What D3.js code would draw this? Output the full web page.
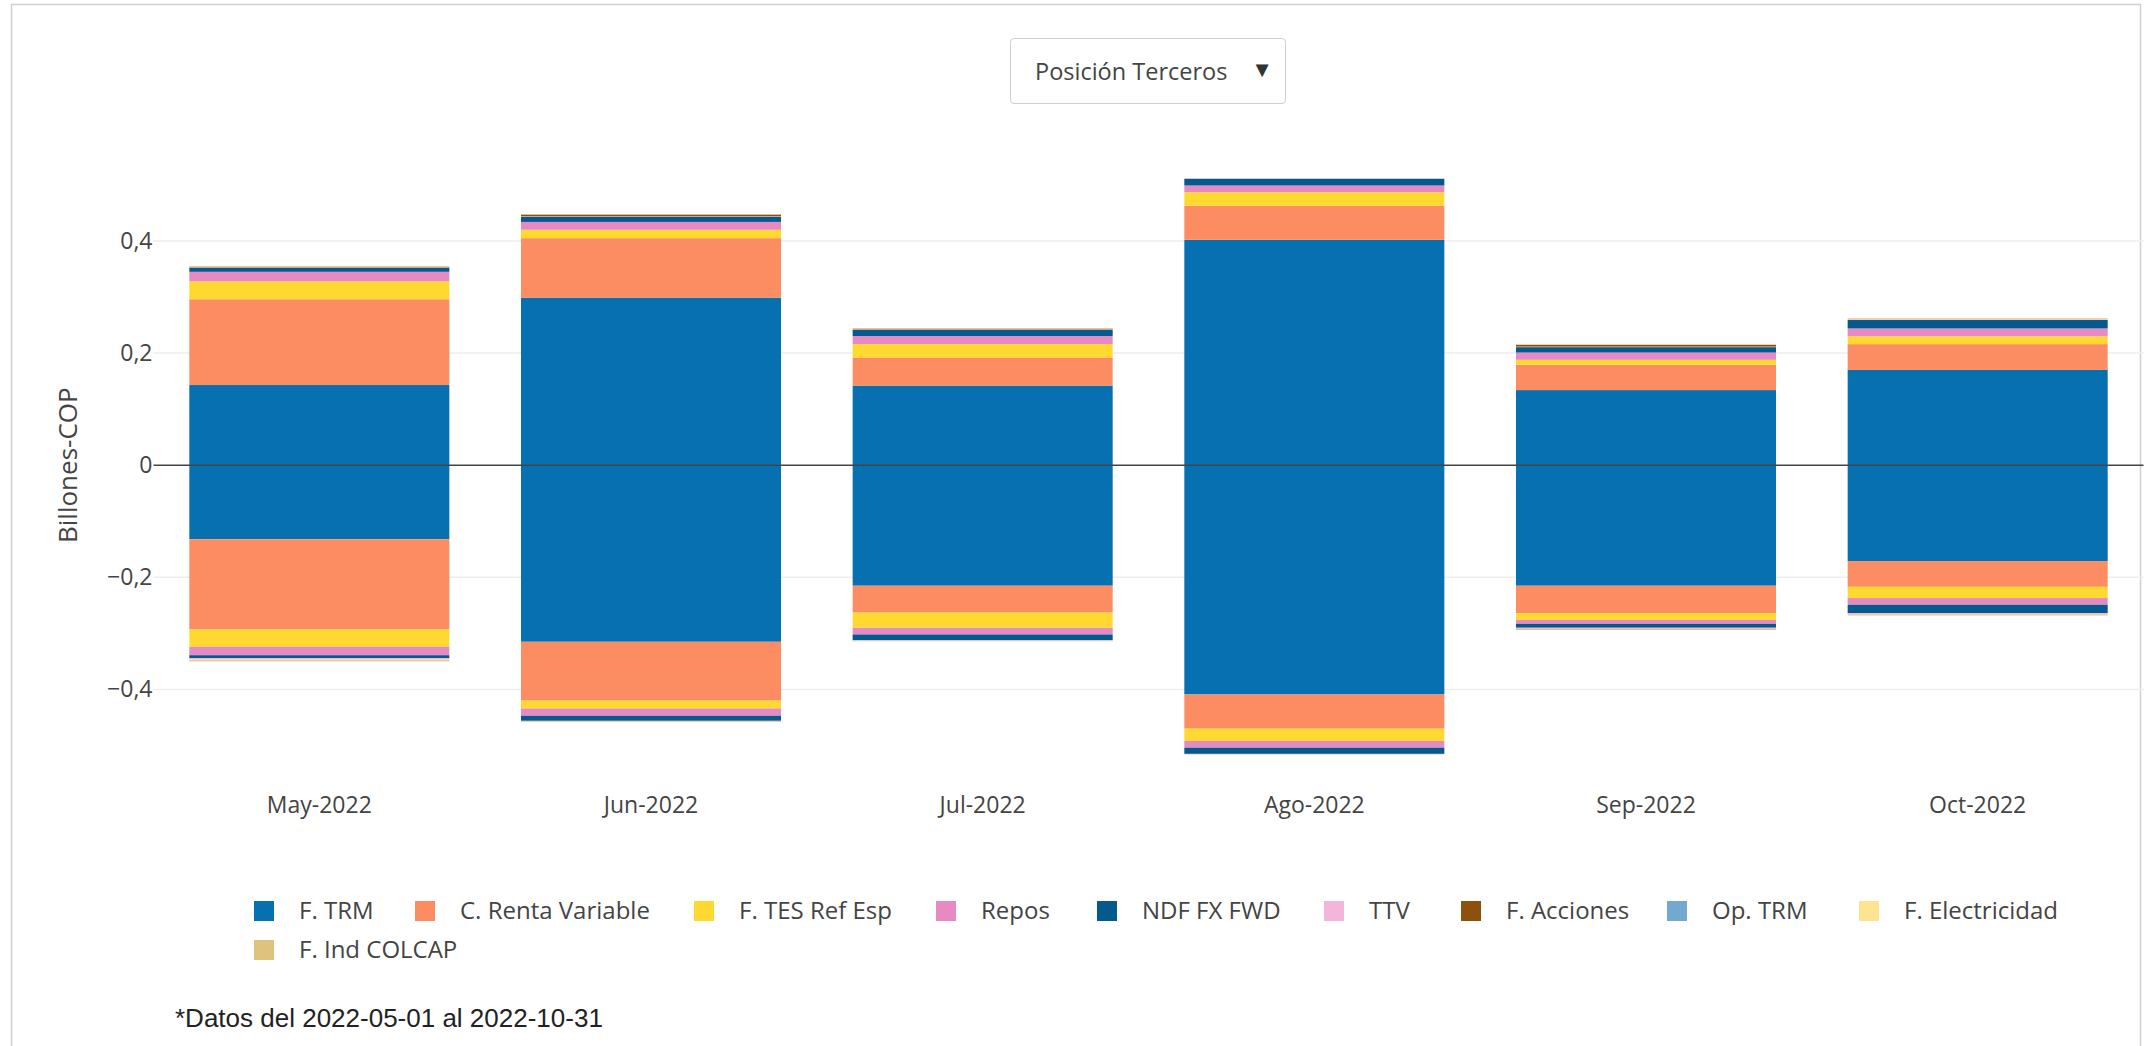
<!DOCTYPE html>
<html>
<head>
<meta charset="utf-8">
<script src="https://cdn.jsdelivr.net/npm/d3@7"></script>
<style>
  body { margin: 0; background: #fff; }
  #chart { position: relative; width: 2149px; height: 1046px; }
  #dropdown {
    position: absolute; left: 1010px; top: 38px; width: 276px; height: 66px;
    box-sizing: border-box; border: 1px solid #c8d0dc; border-radius: 4px; background: #fff;
    font-family: "Open Sans", sans-serif; font-size: 23.5px; color: #444;
  }
  #dropdown span.t { position: absolute; left: 24px; top: 16px; }
  #dropdown span.a { position: absolute; right: 12px; top: 14px; font-size: 22px; color: #333; }
</style>
</head>
<body>
<div id="chart">
  <div id="dropdown"><span class="t">Posición Terceros</span><span class="a">▼</span></div>
</div>
<script>
// categories
const months = ["May-2022", "Jun-2022", "Jul-2022", "Ago-2022", "Sep-2022", "Oct-2022"];

// series names and colours
const seriesNames = ["F. TRM", "C. Renta Variable", "F. TES Ref Esp", "Repos", "NDF FX FWD",
  "TTV", "F. Acciones", "Op. TRM", "F. Electricidad", "F. Ind COLCAP"];
const seriesColors = ["#0670b0", "#fc8d62", "#ffd92f", "#e78ac3", "#045a8d",
  "#f1b6da", "#8c510a", "#74a9cf", "#fee391", "#dfc27d"];

// values, billones COP (positive side / negative side)
const trmPos      = [0.143, 0.299, 0.142, 0.402, 0.134, 0.170];
const trmNeg      = [-0.132, -0.315, -0.215, -0.409, -0.215, -0.171];
const rentaPos    = [0.153, 0.106, 0.050, 0.061, 0.045, 0.046];
const rentaNeg    = [-0.161, -0.105, -0.048, -0.061, -0.049, -0.046];
const tesPos      = [0.032, 0.015, 0.024, 0.024, 0.009, 0.014];
const tesNeg      = [-0.031, -0.014, -0.027, -0.022, -0.012, -0.020];
const reposPos    = [0.017, 0.014, 0.0145, 0.012, 0.013, 0.014];
const reposNeg    = [-0.015, -0.013, -0.012, -0.012, -0.007, -0.012];
const ndfPos      = [0.007, 0.009, 0.011, 0.012, 0.0096, 0.015];
const ndfNeg      = [-0.005, -0.009, -0.010, -0.011, -0.007, -0.015];
const ttvPos      = [0.001, 0.001, 0.001, 0.001, 0.001, 0.001];
const ttvNeg      = [-0.003, -0.001, -0.001, -0.001, -0.002, -0.002];
const accionesPos = [0.001, 0.003, 0.001, 0, 0.003, 0];
const accionesNeg = [0, 0, 0, 0, 0, 0];
const opTrmPos    = [0, 0, 0, 0, 0, 0];
const opTrmNeg    = [0, 0, 0, 0, 0, 0];
const elecPos     = [0.0005, 0, 0, 0, 0, 0];
const elecNeg     = [-0.001, 0, 0, 0, 0, 0];
const colcapPos   = [0.001, 0.001, 0.001, 0, 0.001, 0.002];
const colcapNeg   = [-0.002, -0.001, -0.001, 0, -0.002, -0.002];

const yTicks = [-0.4, -0.2, 0, 0.2, 0.4];

const posVals = [trmPos, rentaPos, tesPos, reposPos, ndfPos, ttvPos, accionesPos, opTrmPos, elecPos, colcapPos];
const negVals = [trmNeg, rentaNeg, tesNeg, reposNeg, ndfNeg, ttvNeg, accionesNeg, opTrmNeg, elecNeg, colcapNeg];

// table for d3.stack, one key per series side
const keys = [];
seriesNames.forEach(s => { keys.push(s + "|+"); keys.push(s + "|-"); });
const rows = months.map((m, i) => {
  const r = { month: m };
  seriesNames.forEach((s, j) => { r[s + "|+"] = posVals[j][i]; r[s + "|-"] = negVals[j][i]; });
  return r;
});

const W = 2149, H = 1046;
const svg = d3.select("#chart").insert("svg", ":first-child")
  .attr("width", W).attr("height", H)
  .style("position", "absolute").style("left", 0).style("top", 0);

// frame
svg.append("rect").attr("x", 11.5).attr("y", 4.5).attr("width", 2129).attr("height", 1100)
  .attr("fill", "none").attr("stroke", "#d0d0d0").attr("stroke-width", 1.5);

const x0 = 153.5, x1 = 2143.5;
const x = d3.scaleBand().domain(months).range([x0, x1]).paddingInner(0.216).paddingOuter(0.108);
const y = d3.scaleLinear().domain([-0.54, 0.54]).range([767.9, 162.5]);

const font = '"Open Sans", verdana, arial, sans-serif';

// gridlines
svg.append("g").selectAll("line").data(yTicks.filter(d => d !== 0)).join("line")
  .attr("x1", x0).attr("x2", x1)
  .attr("y1", d => y(d)).attr("y2", d => y(d))
  .attr("stroke", "#eee").attr("stroke-width", 1.5);

// y axis labels
const yAxis = svg.append("g").attr("transform", `translate(${x0},0)`)
  .call(d3.axisLeft(y).tickValues(yTicks).tickSize(0).tickPadding(1)
    .tickFormat(d => d === 0 ? "0" : (d < 0 ? "−" : "") + Math.abs(d).toFixed(1).replace(".", ",")));
yAxis.select(".domain").remove();
yAxis.selectAll("text").attr("font-family", font).attr("font-size", 23).attr("fill", "#444");

svg.append("text").attr("transform", `translate(68,${y(0)}) rotate(-90)`)
  .attr("text-anchor", "middle").attr("dy", "0.35em")
  .attr("font-family", font).attr("font-size", 26).attr("fill", "#444").text("Billones-COP");

// bars
const stacked = d3.stack().keys(keys).offset(d3.stackOffsetDiverging)(rows);
svg.append("g").selectAll("g").data(stacked).join("g")
  .attr("fill", s => seriesColors[seriesNames.indexOf(s.key.split("|")[0])])
  .selectAll("rect").data(s => s).join("rect")
  .attr("x", d => x(d.data.month))
  .attr("width", x.bandwidth())
  .attr("y", d => y(Math.max(d[0], d[1])))
  .attr("height", d => Math.abs(y(d[0]) - y(d[1])));

// zero line
svg.append("line").attr("x1", x0).attr("x2", x1)
  .attr("y1", y(0)).attr("y2", y(0)).attr("stroke", "#444").attr("stroke-width", 1.5);

// x axis labels
const xAxis = svg.append("g").attr("transform", "translate(0,797)")
  .call(d3.axisBottom(x).tickSize(0).tickPadding(0));
xAxis.select(".domain").remove();
xAxis.selectAll("text").attr("font-family", font).attr("font-size", 23).attr("fill", "#444");

// legend
const legendPos = [[264, 911], [425, 911], [704, 911], [946, 911], [1107, 911],
  [1334, 911], [1471, 911], [1677, 911], [1869, 911], [264, 950]];
const leg = svg.append("g").selectAll("g").data(seriesNames).join("g")
  .attr("transform", (d, i) => `translate(${legendPos[i][0]},${legendPos[i][1]})`);
leg.append("rect").attr("x", -10).attr("y", -10).attr("width", 20).attr("height", 20)
  .attr("fill", (d, i) => seriesColors[i]);
leg.append("text").attr("x", 35).attr("dy", "0.35em")
  .attr("font-family", font).attr("font-size", 24).attr("fill", "#444").text(d => d);

// footnote
svg.append("text").attr("x", 175).attr("y", 1027)
  .attr("font-family", "Arial, 'Liberation Sans', sans-serif").attr("font-size", 26).attr("fill", "#222")
  .text("*Datos del 2022-05-01 al 2022-10-31");
</script>
</body>
</html>
